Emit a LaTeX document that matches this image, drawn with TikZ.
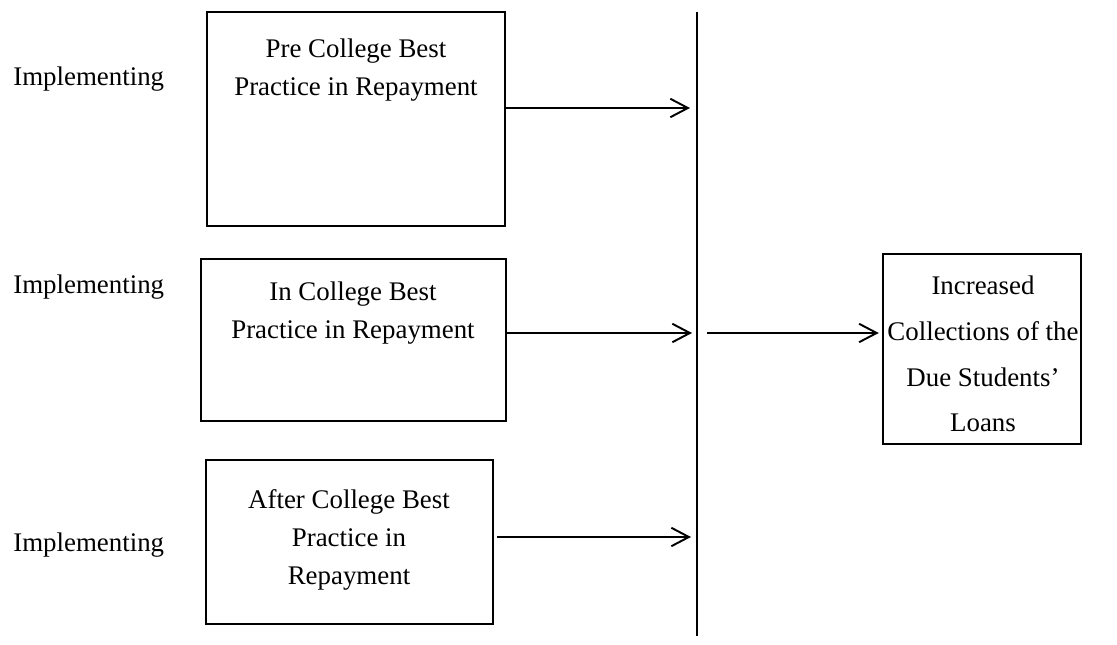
\documentclass[tikz,border=0pt]{standalone}
\usepackage{fontspec}
\setmainfont{Liberation Serif}
\usetikzlibrary{arrows.meta}

\begin{document}
\begin{tikzpicture}[x=0.02cm,y=-0.02cm,>={Straight Barb[length=10pt,width=10.5pt]},
    box/.style={draw,rectangle,line width=0.85pt,inner sep=0pt},
    txt/.style={align=center,inner sep=0pt,font=\fontsize{15.3pt}{21.8pt}\selectfont},
    lbl/.style={anchor=base west,inner sep=0pt,font=\fontsize{15.3pt}{18pt}\selectfont}]
    \useasboundingbox (0,0) rectangle (1117,645);
    \node[box,minimum width=5.96cm,minimum height=4.28cm] (b_1) at (356,119)   {};
    \node[box,minimum width=6.10cm,minimum height=3.24cm] (b_2) at (353.5,340) {};
    \node[box,minimum width=5.74cm,minimum height=3.28cm] (b_3) at (349.5,542) {};
    \node[box,minimum width=3.96cm,minimum height=3.80cm] (b_4) at (982,349)   {};
    \node[txt] (t_1) at (356,70)  {Pre College Best\\Practice in Repayment};
    \node[txt] (t_2) at (353,313) {In College Best\\Practice in Repayment};
    \node[txt] (t_3) at (349,540) {After College Best\\Practice in\\Repayment};
    \node[txt,font=\fontsize{15.3pt}{26pt}\selectfont] (t_4) at (983,354)
        {Increased\\Collections of the\\Due Students'\\Loans};
    \node[lbl] (l_1) at (13,86)  {Implementing};
    \node[lbl] (l_2) at (13,294) {Implementing};
    \node[lbl] (l_3) at (13,552) {Implementing};
    % the bar and where the arrows meet it
    \coordinate (bar_top) at (697,12);
    \coordinate (bar_bot) at (697,636);
    \coordinate (j_1) at (690,108);
    \coordinate (j_2) at (692,333);
    \coordinate (j_3) at (691,537);
    \coordinate (k)   at (707,333);
    \draw[line width=1.1pt] (bar_top) -- (bar_bot);
    \path[->,line width=1.1pt] (b_1.east |- j_1) edge (j_1)
              (b_2.east |- j_2) edge (j_2)
              (b_3.east |- j_3) edge [shorten <=2pt] (j_3)
              (k) edge [shorten >=2pt] (b_4.west |- k);
\end{tikzpicture}
\end{document}
